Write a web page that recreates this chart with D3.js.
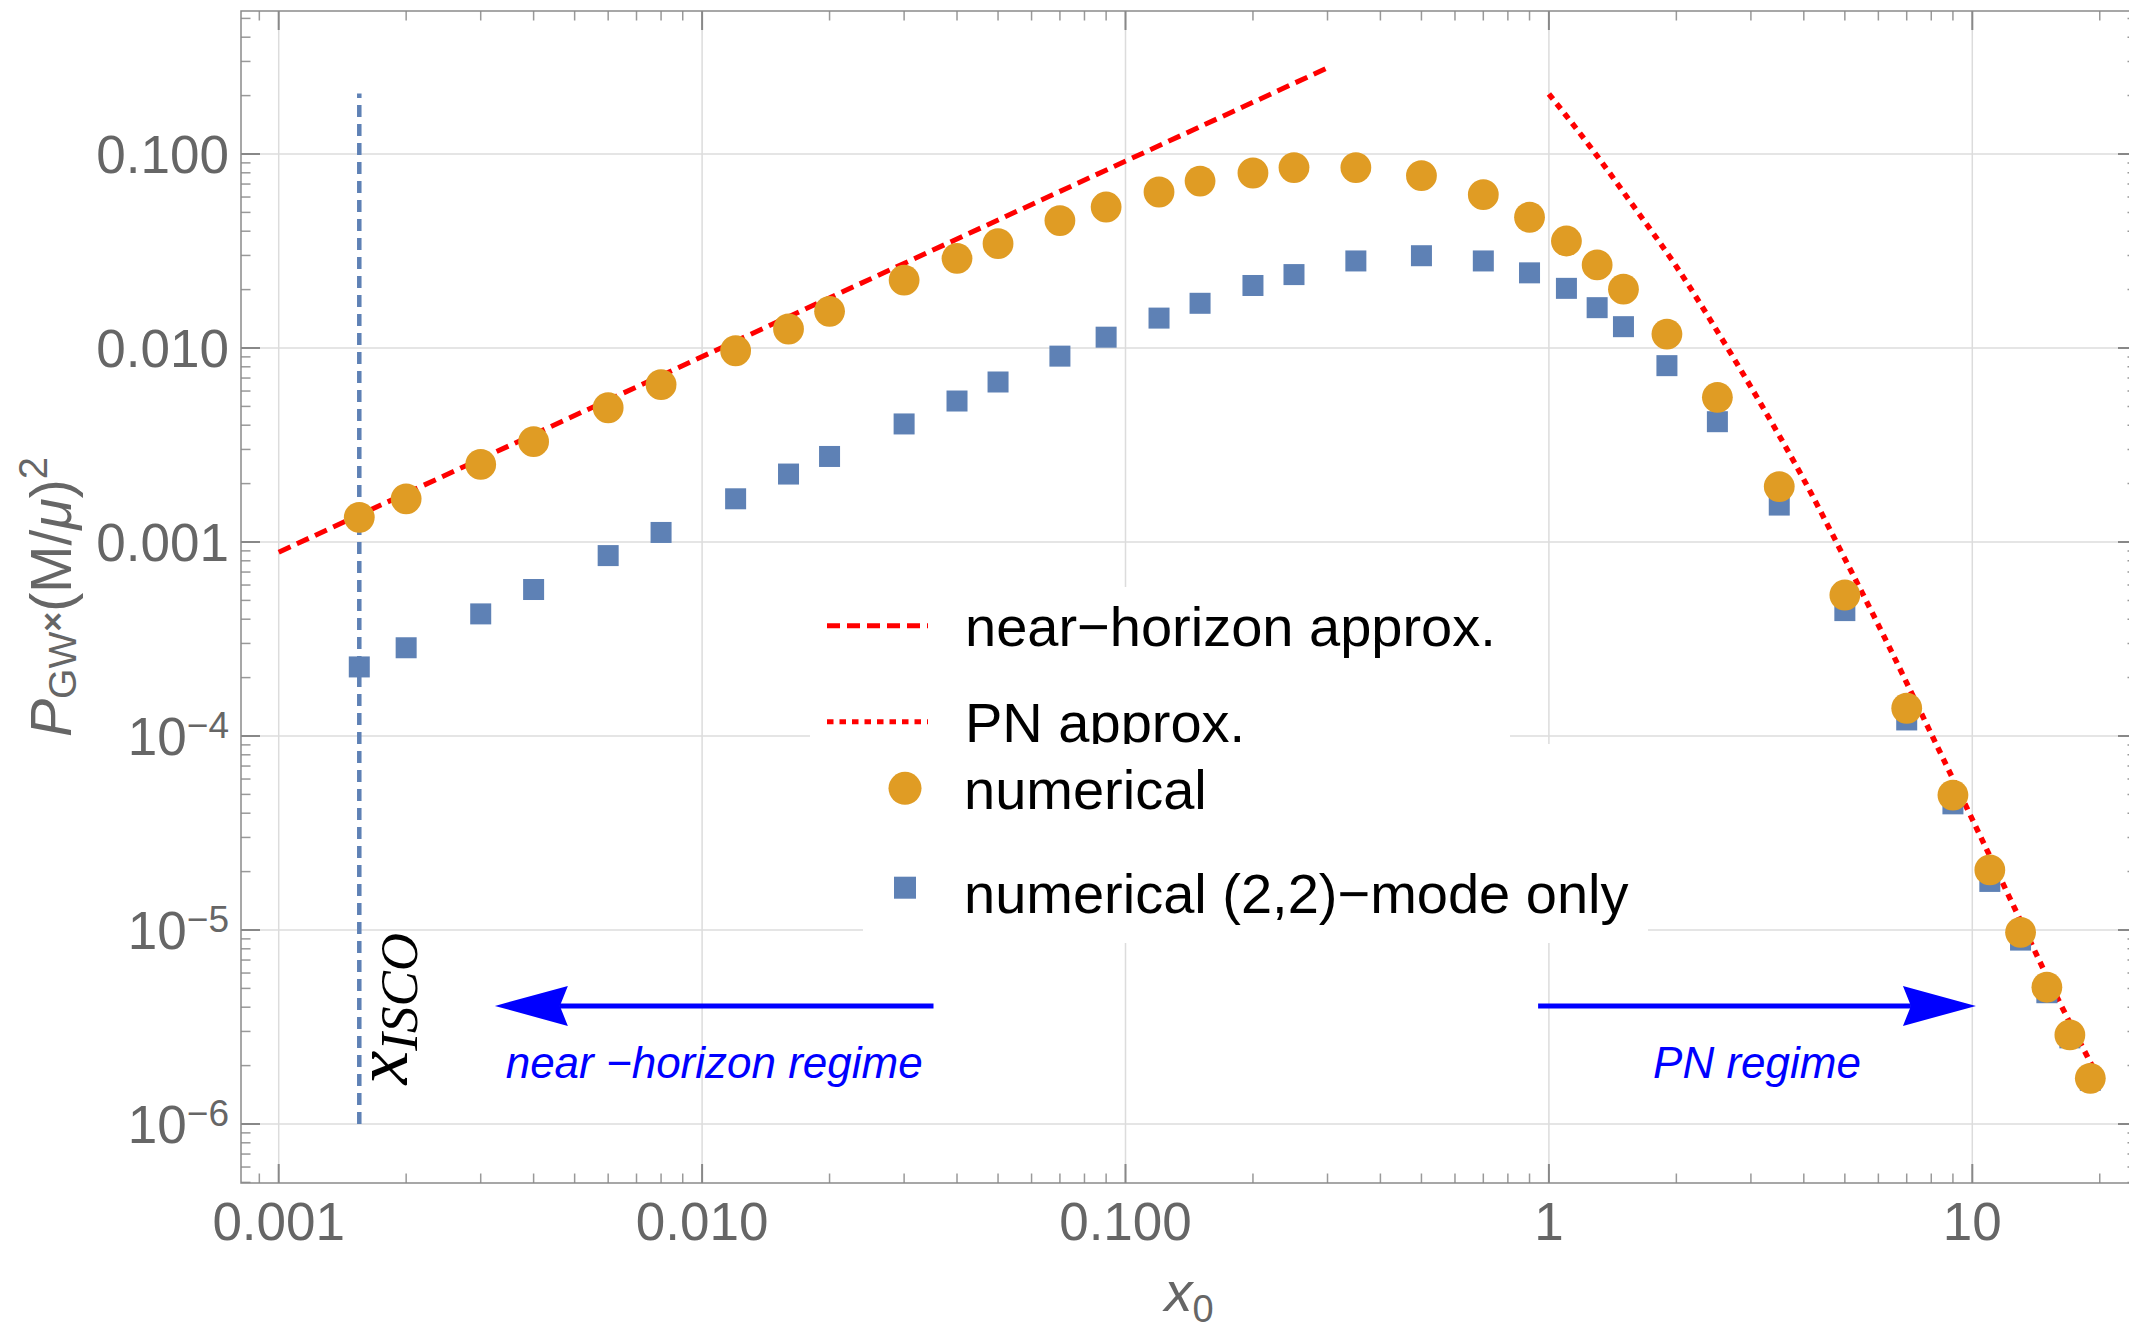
<!DOCTYPE html>
<html>
<head>
<meta charset="utf-8">
<script src="https://cdn.jsdelivr.net/npm/d3@7"></script>
<style>
  body { margin: 0; background: #fff; }
  svg { display: block; }
  text { font-family: "Liberation Sans", Arial, sans-serif; }
</style>
</head>
<body>
<script>
var width = 2129;
var height = 1329;

// numerical runs: x0 and P_GW*(M/mu)^2
var x0 = [0.00155, 0.002, 0.003, 0.004, 0.006, 0.008, 0.012, 0.016, 0.02, 0.03,
  0.04, 0.05, 0.07, 0.09, 0.12, 0.15, 0.2, 0.25, 0.35, 0.5,
  0.7, 0.9, 1.1, 1.3, 1.5, 1.9, 2.5, 3.5, 5, 7,
  9, 11, 13, 15, 17, 19];
var pTotal = [1.34e-3, 1.67e-3, 2.51e-3, 3.29e-3, 4.92e-3, 6.47e-3, 9.68e-3, 0.01253, 0.01545, 0.0224,
  0.0290, 0.0345, 0.0454, 0.0533, 0.0637, 0.0725, 0.0798, 0.0851, 0.0851, 0.0773,
  0.0617, 0.0472, 0.0356, 0.0268, 0.0201, 0.0118, 5.57e-3, 1.93e-3, 5.33e-4, 1.39e-4,
  4.96e-5, 2.04e-5, 9.73e-6, 5.07e-6, 2.88e-6, 1.72e-6];
var p22 = [2.27e-4, 2.85e-4, 4.26e-4, 5.69e-4, 8.51e-4, 1.12e-3, 1.67e-3, 2.24e-3, 2.76e-3, 4.06e-3,
  5.33e-3, 6.68e-3, 9.08e-3, 0.01137, 0.01426, 0.0170, 0.0210, 0.0239, 0.0281, 0.0299,
  0.0281, 0.0244, 0.0203, 0.01614, 0.01288, 8.11e-3, 4.17e-3, 1.55e-3, 4.43e-4, 1.21e-4,
  4.47e-5, 1.78e-5, 8.87e-6, 4.75e-6, 2.78e-6, 1.68e-6];

// near-horizon approximation (straight in log-log)
var nearX = [0.001, 0.3];
var nearP = [8.86e-4, 0.278];

// PN approximation
var pnX = [1, 1.26, 1.58, 2, 2.51, 3.16, 3.98, 5.01, 6.31, 7.94, 10, 12.6, 15.8, 19.5];
var pnP = [0.204, 0.107, 0.0543, 0.0263, 0.0120, 5.19e-3, 2.14e-3, 8.13e-4, 2.99e-4, 1.06e-4,
  3.72e-5, 1.29e-5, 4.57e-6, 1.87e-6];

var xISCO = 0.00155;
var iscoP = [1e-6, 0.205];

// regime arrows
var arrowFrom = [0.0352, 0.943];
var arrowTo = [0.00324, 10.2];
var arrowP = 4.06e-6;
var arrowLabels = ["near \u2212horizon regime", "PN regime"];

var xTickVals = [0.001, 0.01, 0.1, 1, 10];
var xTickLabels = ["0.001", "0.010", "0.100", "1", "10"];
var yTickVals = [0.1, 0.01, 0.001, 1e-4, 1e-5, 1e-6];
var yTickBase = ["0.100", "0.010", "0.001", "10", "10", "10"];
var yTickExp = ["", "", "", "\u22124", "\u22125", "\u22126"];

var legendLines = ["near\u2212horizon approx.", "PN approx."];
var legendPoints = ["numerical", "numerical (2,2)\u2212mode only"];

var orange = "#E09C24";
var blue = "#5E81B5";
var gray = "#666666";

var frame = { left: 241, right: 2137, top: 11, bottom: 1183 };

var x = d3.scaleLog().domain([0.001, 10]).range([278.7, 1972.3]);
var y = d3.scaleLog().domain([0.1, 1e-6]).range([154, 1124]);

const svg = d3
  .select("body")
  .append("svg")
  .attr("width", width)
  .attr("height", height);

// all 1..9 x 10^n values, keep the ones inside the frame
function logTicks(scale, nLo, nHi, lo, hi) {
  var out = [];
  for (var n = nLo; n <= nHi; n++) {
    for (var k = 1; k <= 9; k++) {
      var v = +(k * Math.pow(10, n)).toPrecision(3);
      var p = scale(v);
      if (p >= lo && p <= hi) out.push({ v: v, major: k === 1 });
    }
  }
  return out;
}
var xt = logTicks(x, -4, 1, frame.left, frame.right);
var yt = logTicks(y, -7, 0, frame.top, frame.bottom);

// grid
var grid = svg.append("g").attr("stroke", "#dcdcdc").attr("stroke-width", 1.5);
grid.selectAll(".gx").data(xTickVals).enter().append("line")
  .attr("x1", d => x(d)).attr("x2", d => x(d))
  .attr("y1", frame.top).attr("y2", frame.bottom);
grid.selectAll(".gy").data(yTickVals).enter().append("line")
  .attr("x1", frame.left).attr("x2", frame.right)
  .attr("y1", d => y(d)).attr("y2", d => y(d));

// ticks on all four sides
var ticks = svg.append("g");
function tickLen(d) { return d.major ? 19 : 9.5; }
function tickCol(d) { return d.major ? "#888" : "#999"; }
function tickW(d) { return d.major ? 2 : 1.5; }
[frame.bottom, frame.top].forEach(function (edge, i) {
  var s = i === 0 ? -1 : 1;
  ticks.selectAll(null).data(xt).enter().append("line")
    .attr("x1", d => x(d.v)).attr("x2", d => x(d.v))
    .attr("y1", edge).attr("y2", d => edge + s * tickLen(d))
    .attr("stroke", tickCol).attr("stroke-width", tickW);
});
[frame.left, frame.right].forEach(function (edge, i) {
  var s = i === 0 ? 1 : -1;
  ticks.selectAll(null).data(yt).enter().append("line")
    .attr("y1", d => y(d.v)).attr("y2", d => y(d.v))
    .attr("x1", edge).attr("x2", d => edge + s * tickLen(d))
    .attr("stroke", tickCol).attr("stroke-width", tickW);
});

svg.append("rect")
  .attr("x", frame.left).attr("y", frame.top)
  .attr("width", frame.right - frame.left).attr("height", frame.bottom - frame.top)
  .attr("fill", "none").attr("stroke", "#8a8a8a").attr("stroke-width", 1.5);

// tick labels
svg.append("g").selectAll("text").data(xTickVals).enter().append("text")
  .attr("x", d => x(d)).attr("y", frame.bottom + 57)
  .attr("text-anchor", "middle").attr("font-size", 53).attr("fill", gray)
  .text((d, i) => xTickLabels[i]);

var yl = svg.append("g").selectAll("text").data(yTickVals).enter().append("text")
  .attr("x", frame.left - 12).attr("y", d => y(d)).attr("dy", 19)
  .attr("text-anchor", "end").attr("font-size", 53).attr("fill", gray);
yl.append("tspan").text((d, i) => yTickBase[i]);
yl.append("tspan").attr("font-size", 37).attr("dy", -17).text((d, i) => yTickExp[i]);

// axis labels
var xLab = svg.append("text")
  .attr("x", (frame.left + frame.right) / 2).attr("y", 1311)
  .attr("text-anchor", "middle").attr("font-size", 56).attr("fill", gray);
xLab.append("tspan").attr("font-style", "italic").text("x");
xLab.append("tspan").attr("font-size", 38).attr("dy", 11).text("0");

var yLab = svg.append("text")
  .attr("transform", "translate(71," + (frame.top + frame.bottom) / 2 + ") rotate(-90)")
  .attr("text-anchor", "middle").attr("font-size", 57).attr("fill", gray);
yLab.append("tspan").attr("font-style", "italic").text("P");
yLab.append("tspan").attr("font-size", 39).attr("dy", 5).text("GW");
yLab.append("tspan").attr("font-size", 34).attr("font-weight", "bold").attr("dy", -12).text("\u00d7");
yLab.append("tspan").attr("dy", 7).text("(M/");
yLab.append("tspan").attr("font-style", "italic").text("\u03bc");
yLab.append("tspan").text(")");
yLab.append("tspan").attr("font-size", 40).attr("dy", -24).text("2");

// curves
var line = d3.line().x(d => x(d[0])).y(d => y(d[1]));

svg.append("path")
  .attr("d", line(d3.zip(nearX, nearP)))
  .attr("fill", "none").attr("stroke", "#ff0000").attr("stroke-width", 5)
  .attr("stroke-dasharray", "13,7");

svg.append("path")
  .attr("d", line.curve(d3.curveMonotoneX)(d3.zip(pnX, pnP)))
  .attr("fill", "none").attr("stroke", "#ff0000").attr("stroke-width", 5.5)
  .attr("stroke-dasharray", "6.5,6");

svg.append("line")
  .attr("x1", x(xISCO)).attr("x2", x(xISCO))
  .attr("y1", y(iscoP[0])).attr("y2", y(iscoP[1]))
  .attr("stroke", blue).attr("stroke-width", 4.5).attr("stroke-dasharray", "12,7");

// x_ISCO label (serif italic)
var iso = svg.append("text")
  .attr("transform", "translate(" + (x(xISCO) + 48) + "," + y(1.6e-6) + ") rotate(-90)")
  .style("font-family", "'Liberation Serif', 'Times New Roman', serif")
  .attr("font-style", "italic").attr("font-size", 76).attr("fill", "#000");
iso.append("tspan").text("x");
iso.append("tspan").attr("font-size", 53).attr("dy", 10).text("ISCO");

// markers
var pts = d3.zip(x0, pTotal, p22);
svg.append("g").selectAll("rect").data(pts).enter().append("rect")
  .attr("x", d => x(d[0]) - 10.5).attr("y", d => y(d[2]) - 10.5)
  .attr("width", 21).attr("height", 21).attr("fill", blue);
svg.append("g").selectAll("circle").data(pts).enter().append("circle")
  .attr("cx", d => x(d[0])).attr("cy", d => y(d[1])).attr("r", 15.4)
  .attr("fill", orange);

// regime arrows
var head = 73, half = 20, notch = 8;
arrowFrom.forEach(function (f, i) {
  var x1 = x(f), x2 = x(arrowTo[i]), yy = y(arrowP);
  var dir = x2 > x1 ? 1 : -1;
  var g = svg.append("g").attr("fill", "#0000ff");
  g.append("line")
    .attr("x1", x1).attr("x2", x2 - dir * (head - notch))
    .attr("y1", yy).attr("y2", yy)
    .attr("stroke", "#0000ff").attr("stroke-width", 5);
  g.append("path").attr("d",
    "M" + x2 + "," + yy +
    "L" + (x2 - dir * head) + "," + (yy - half) +
    "L" + (x2 - dir * (head - notch)) + "," + yy +
    "L" + (x2 - dir * head) + "," + (yy + half) + "Z");
  g.append("text")
    .attr("x", (x1 + x2) / 2).attr("y", yy + 72)
    .attr("text-anchor", "middle").attr("font-size", 44).attr("font-style", "italic")
    .text(arrowLabels[i]);
});

// legends: line legend box, then point legend box on top of it
var lgA = svg.append("g");
lgA.append("rect").attr("x", 810).attr("y", 587).attr("width", 700).attr("height", 158).attr("fill", "#fff");
var lineRows = [625.7, 721.7];
var lineDash = ["13,7", "6.5,6"];
legendLines.forEach(function (t, i) {
  lgA.append("line")
    .attr("x1", 827).attr("x2", 928).attr("y1", lineRows[i]).attr("y2", lineRows[i])
    .attr("stroke", "#ff0000").attr("stroke-width", 5).attr("stroke-dasharray", lineDash[i]);
  lgA.append("text").attr("x", 965).attr("y", lineRows[i] + 20.5)
    .attr("font-size", 56).attr("fill", "#000").text(t);
});

var lgB = svg.append("g");
lgB.append("rect").attr("x", 863).attr("y", 744).attr("width", 785).attr("height", 199).attr("fill", "#fff");
var pointRows = [788.3, 887.7];
lgB.append("circle").attr("cx", 905).attr("cy", pointRows[0]).attr("r", 16.5).attr("fill", orange);
lgB.append("rect").attr("x", 894).attr("y", pointRows[1] - 11).attr("width", 22).attr("height", 22).attr("fill", blue);
legendPoints.forEach(function (t, i) {
  lgB.append("text").attr("x", 964).attr("y", pointRows[i] + 21 + i * 4)
    .attr("font-size", 56).attr("fill", "#000").text(t);
});
</script>
</body>
</html>
